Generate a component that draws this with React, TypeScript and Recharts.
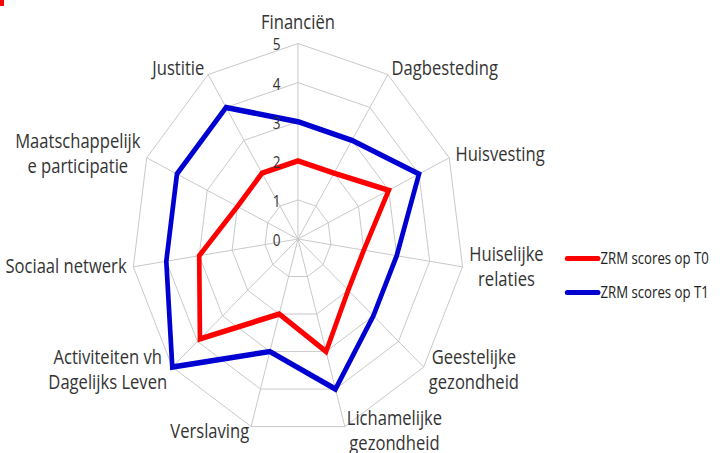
import { RadarChart, Radar, PolarGrid, PolarAngleAxis, PolarRadiusAxis } from 'recharts'

// the source picture is squashed horizontally, so draw wide and squeeze
const SQUEEZE = 0.8506
const W = 850
const H = 453
const CX = 350.3
const CY = 239
const R = 195.5

const categories = [
  'Financiën',
  'Dagbesteding',
  'Huisvesting',
  'Huiselijke\nrelaties',
  'Geestelijke\ngezondheid',
  'Lichamelijke\ngezondheid',
  'Verslaving',
  'Activiteiten vh\nDagelijks Leven',
  'Sociaal netwerk',
  'Maatschappelijk\ne participatie',
  'Justitie',
]
const t0Scores = [2, 2, 3, 2, 2, 3, 2, 3.9, 3, 2, 2]
const t1Scores = [3, 3, 4, 3, 3, 4, 3, 5, 4, 4, 4]
const seriesNames = ['ZRM scores op T0', 'ZRM scores op T1']
const seriesColors = ['#ff0000', '#0000d0']

const data = categories.map((name, i) => ({ name, t0: t0Scores[i], t1: t1Scores[i] }))

const FONT = "'Open Sans', sans-serif"
const LABEL_SIZE = 19.5
const LINE_H = 25

let ctx: CanvasRenderingContext2D | null = null
function textWidth(s: string) {
  if (!ctx) ctx = document.createElement('canvas').getContext('2d')
  if (!ctx) return s.length * LABEL_SIZE * 0.55
  ctx.font = `${LABEL_SIZE}px ${FONT}`
  return ctx.measureText(s).width
}

function AngleTick(props: any) {
  const { payload } = props
  const lines = String(payload.value).split('\n')
  const a = (payload.coordinate * Math.PI) / 180
  const sinT = Math.cos(a)
  const cosT = Math.sin(a)
  // outer vertex of the grid on this spoke
  const vx = CX + R * sinT
  const vy = CY - R * cosT
  const w = Math.max(...lines.map(textWidth))
  let tx = vx
  let yc = vy
  if (Math.abs(sinT) < 0.1) {
    yc = vy - cosT * 21
  } else {
    const side = Math.sign(sinT)
    tx = vx + side * (8 * Math.abs(sinT) + w / 2)
    yc = vy - 6 * cosT - 1
  }
  return (
    <g>
      {lines.map((l, i) => (
        <text key={i} x={tx} y={yc + (i - (lines.length - 1) / 2) * LINE_H + 6.5} textAnchor="middle"
          fontFamily={FONT} fontSize={LABEL_SIZE} fill="#333">
          {l}
        </text>
      ))}
    </g>
  )
}

function RadiusTick(props: any) {
  const { x, y, payload } = props
  return (
    <text x={x - 25} y={y + 7} textAnchor="middle" fontFamily={FONT} fontSize={16} fill="#333">
      {payload.value}
    </text>
  )
}

export default function App() {
  return (
    <div style={{ position: 'absolute', left: 0, top: 0, width: 723, height: H, overflow: 'hidden', background: '#fff' }}>
      <div style={{ position: 'absolute', left: 0, top: 0, width: 4, height: 6, background: '#ff0000' }} />
      <div style={{ position: 'absolute', left: 0, top: 0, width: W, height: H, transform: `scaleX(${SQUEEZE})`, transformOrigin: '0 0' }}>
        <RadarChart width={W} height={H} data={data} cx={CX} cy={CY} outerRadius={R}
          margin={{ top: 0, right: 0, bottom: 0, left: 0 }}>
          <PolarGrid gridType="polygon" stroke="#c4c4c4" strokeWidth={1} />
          <PolarAngleAxis dataKey="name" tick={<AngleTick />} tickLine={false} axisLine={false} />
          <PolarRadiusAxis angle={90} domain={[0, 5]} tickCount={6} axisLine={false} tick={<RadiusTick />} />
          <Radar dataKey="t0" name={seriesNames[0]} stroke={seriesColors[0]} strokeWidth={5.5} fill="none" fillOpacity={0} dot={false} isAnimationActive={false} />
          <Radar dataKey="t1" name={seriesNames[1]} stroke={seriesColors[1]} strokeWidth={5.5} fill="none" fillOpacity={0} dot={false} isAnimationActive={false} />
        </RadarChart>

        {/* legend */}
        <div style={{ position: 'absolute', left: 664, top: 245, fontFamily: FONT, fontSize: 15.5, color: '#222' }}>
          {seriesNames.map((n, i) => (
            <div key={n} style={{ display: 'flex', alignItems: 'center', height: 26, marginBottom: 8 }}>
              <div style={{ width: 42, height: 5, borderRadius: 3, background: seriesColors[i] }} />
              <span style={{ whiteSpace: 'nowrap' }}>{n}</span>
            </div>
          ))}
        </div>
      </div>
    </div>
  )
}
